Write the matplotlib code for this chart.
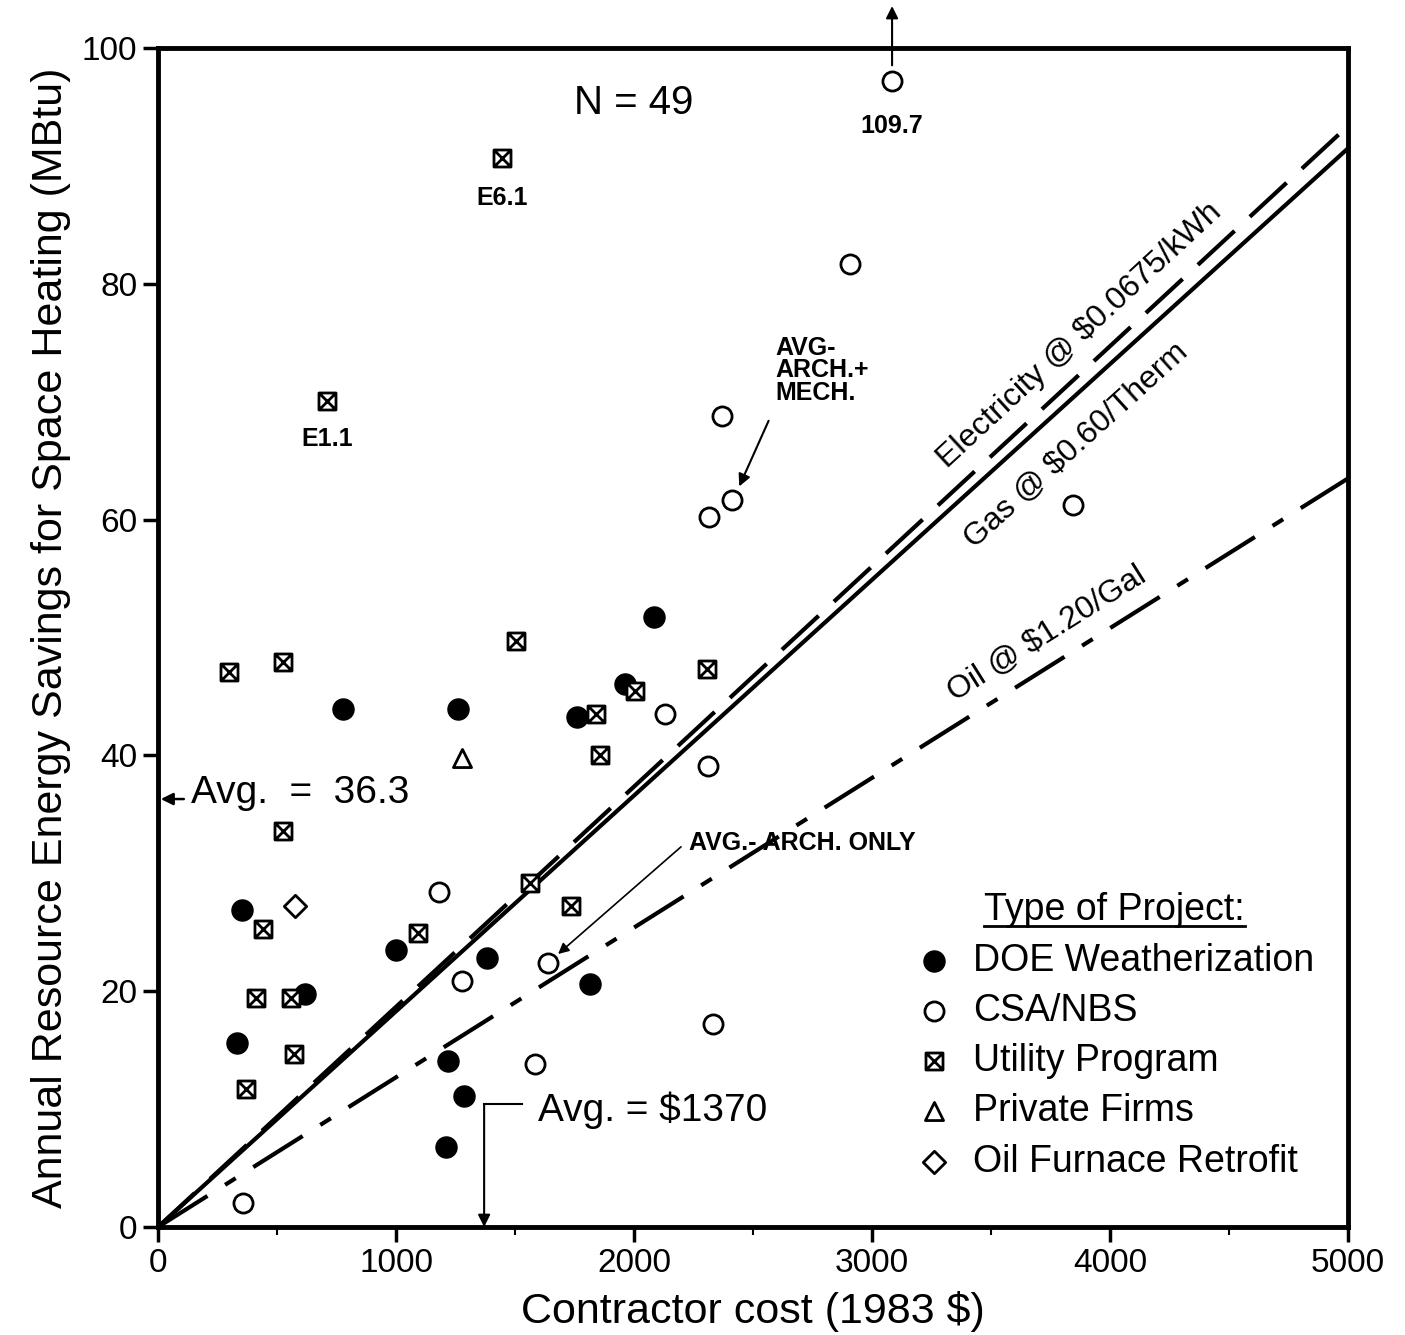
import numpy as np
import matplotlib
matplotlib.use("Agg")
import matplotlib.pyplot as plt
from matplotlib.path import Path
from matplotlib.lines import Line2D

plt.rcParams['font.family'] = ['Liberation Sans', 'DejaVu Sans']

# data: contractor cost ($) and savings (MBtu)
doe_x = [777, 1261, 2084, 1962, 1761, 353, 1000, 1382, 618, 1815, 332, 1218, 1286, 1210]
doe_y = [43.9, 43.9, 51.7, 46.1, 43.3, 26.9, 23.5, 22.8, 19.8, 20.6, 15.6, 14.1, 11.1, 6.8]

csa_x = [3084, 2908, 2370, 2412, 2315, 3845, 2130, 2311, 1181, 1639, 1277, 2332, 1584, 357]
csa_y = [97.2, 81.7, 68.8, 61.7, 60.2, 61.2, 43.5, 39.1, 28.4, 22.4, 20.9, 17.2, 13.8, 2.0]

util_x = [1445, 710, 298, 525, 1504, 2307, 2004, 1840, 1857, 525, 1563, 1735, 441, 1092, 412, 559, 571, 370]
util_y = [90.7, 70.1, 47.1, 47.9, 49.7, 47.3, 45.5, 43.5, 40.0, 33.6, 29.2, 27.2, 25.3, 24.9, 19.4, 19.4, 14.7, 11.7]

priv_x = [1277]
priv_y = [39.8]

oil_x = [576]
oil_y = [27.2]

# break-even lines: savings at $5000
line_x = [0, 5000]
elec_y = [0, 93.4]
gas_y = [0, 91.5]
oilline_y = [0, 63.5]

avg_savings = 36.3
avg_cost = 1370

# box with an x inside
boxx = Path([(-1, -1), (1, -1), (1, 1), (-1, 1), (-1, -1),
             (-1, -1), (1, 1), (-1, 1), (1, -1)],
            [Path.MOVETO, Path.LINETO, Path.LINETO, Path.LINETO, Path.CLOSEPOLY,
             Path.MOVETO, Path.LINETO, Path.MOVETO, Path.LINETO])

fig = plt.figure(figsize=(14.05, 13.35), dpi=100)
ax = fig.add_axes([0.1125, 0.0809, 0.847, 0.8831])

ax.plot(line_x, elec_y, color='black', lw=3, dashes=(12, 5))
ax.plot(line_x, gas_y, color='black', lw=3)
ax.plot(line_x, oilline_y, color='black', lw=3, dashes=(14, 5, 3, 5))

h1 = ax.scatter(doe_x, doe_y, s=230, color='black', zorder=3)
h2 = ax.scatter(csa_x, csa_y, s=190, facecolor='white', edgecolor='black', lw=2, zorder=3)
h3 = ax.scatter(util_x, util_y, s=150, marker=boxx, facecolor='white', edgecolor='black', lw=2, zorder=3)
h4 = ax.scatter(priv_x, priv_y, s=170, marker='^', facecolor='white', edgecolor='black', lw=2, zorder=3)
h5 = ax.scatter(oil_x, oil_y, s=130, marker='D', facecolor='white', edgecolor='black', lw=2, zorder=3)

ax.set_xlim(0, 5000)
ax.set_ylim(0, 100)
ax.set_xticks([0, 1000, 2000, 3000, 4000, 5000])
ax.set_xticks([500, 1500, 2500, 3500, 4500], minor=True)
ax.set_yticks([0, 20, 40, 60, 80, 100])
ax.tick_params(labelsize=24, direction='out', length=11, width=2.5, pad=4)
ax.tick_params(axis='x', which='minor', direction='out', length=6, width=1.5)
for s in ax.spines.values():
    s.set_linewidth(3.5)
ax.set_xlabel('Contractor cost (1983 $)', fontsize=31, labelpad=9)
ax.set_ylabel('Annual Resource Energy Savings for Space Heating (MBtu)', fontsize=31, labelpad=8)

# line labels, rotated along the lines
ax.text(3870, 75.6, 'Electricity @ $0.0675/kWh', fontsize=23,
        rotation=np.degrees(np.arctan2(elec_y[1], 5000)), transform_rotates_text=True,
        rotation_mode='anchor', ha='center', va='center')
ax.text(3860, 66.3, 'Gas @ $0.60/Therm', fontsize=23,
        rotation=np.degrees(np.arctan2(gas_y[1], 5000)), transform_rotates_text=True,
        rotation_mode='anchor', ha='center', va='center')
ax.text(3735, 50.3, 'Oil @ $1.20/Gal', fontsize=23,
        rotation=np.degrees(np.arctan2(oilline_y[1], 5000)), transform_rotates_text=True,
        rotation_mode='anchor', ha='center', va='center')

ax.text(2000, 95.3, 'N = 49', fontsize=29, ha='center', va='center')
ax.text(3084, 93.4, '109.7', fontsize=18, fontweight='bold', ha='center', va='center')
ax.annotate('', xy=(3084, 103.8), xytext=(3084, 98.3), annotation_clip=False,
            arrowprops=dict(arrowstyle='-|>', color='black', lw=1.5, mutation_scale=18))
ax.text(1445, 87.3, 'E6.1', fontsize=18, fontweight='bold', ha='center', va='center')
ax.text(710, 66.8, 'E1.1', fontsize=18, fontweight='bold', ha='center', va='center')

ax.text(2595, 75.6, 'AVG-\nARCH.+\nMECH.', fontsize=18, fontweight='bold', ha='left', va='top',
        linespacing=0.92)
ax.annotate('', xy=(2437, 62.6), xytext=(2570, 68.6),
            arrowprops=dict(arrowstyle='-|>', color='black', lw=1.5, mutation_scale=18))
ax.text(2230, 32.6, 'AVG.- ARCH. ONLY', fontsize=18, fontweight='bold', ha='left', va='center')
ax.annotate('', xy=(1672, 23.0), xytext=(2206, 32.4),
            arrowprops=dict(arrowstyle='-|>', color='black', lw=1.2, mutation_scale=16))

ax.text(140, avg_savings + 0.5, 'Avg.  =  36.3', fontsize=28, ha='left', va='center')
ax.annotate('', xy=(0, avg_savings), xytext=(120, avg_savings), annotation_clip=False,
            arrowprops=dict(arrowstyle='-|>', color='black', lw=1.8, mutation_scale=18))
ax.text(1597, 9.9, 'Avg. = $1370', fontsize=28, ha='left', va='center')
ax.plot([1530, avg_cost], [10.4, 10.4], color='black', lw=1.5)
ax.annotate('', xy=(avg_cost, 0), xytext=(avg_cost, 10.4),
            arrowprops=dict(arrowstyle='-|>', color='black', lw=1.5, mutation_scale=18,
                            shrinkA=0, shrinkB=0))

leg = ax.legend([h1, h2, h3, h4, h5],
                ['DOE Weatherization', 'CSA/NBS', 'Utility Program', 'Private Firms',
                 'Oil Furnace Retrofit'],
                loc='lower left', bbox_to_anchor=(0.614, 0.018), frameon=False, fontsize=27,
                title='Type of Project:', title_fontsize=27, labelspacing=0.38,
                handlelength=1.0, handletextpad=0.55, borderpad=0.2, scatterpoints=1)

fig.canvas.draw()
bb = leg.get_title().get_window_extent()
inv = fig.transFigure.inverted()
(x0, y0), (x1, y1) = inv.transform([(bb.x0, bb.y0), (bb.x1, bb.y0)])
fig.add_artist(Line2D([x0, x1], [y0 + 0.002, y0 + 0.002], color='black', lw=2,
                      transform=fig.transFigure))

fig.savefig('out.png', dpi=100)
